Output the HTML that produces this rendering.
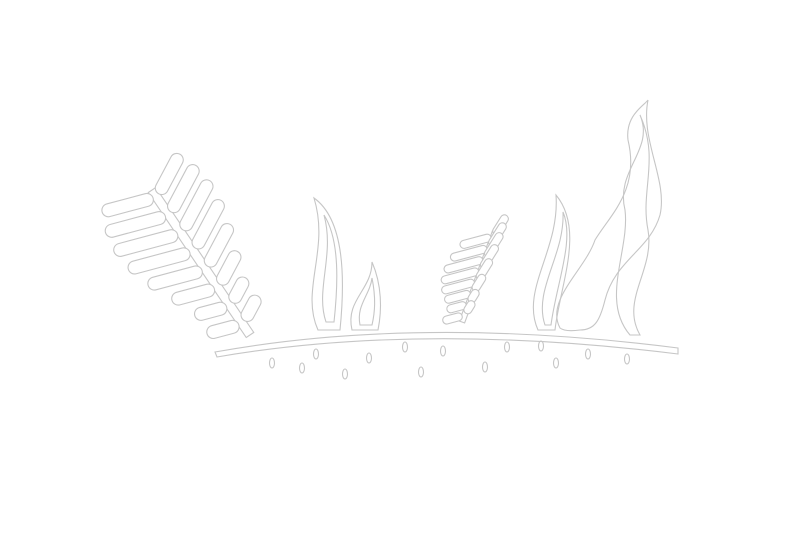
<!DOCTYPE html>
<html><head><meta charset="utf-8"><style>
html,body{margin:0;padding:0;background:#fff;width:800px;height:534px;overflow:hidden}
svg{display:block}
</style></head><body>
<svg id="art" width="800" height="534" viewBox="0 0 800 534" fill="none" stroke="#c6c6c6" stroke-width="1.1">
<g>
<path d="M215,352 Q420,315 678,348 L678,354 Q420,322 217,357 Z"/>
</g>
<g id="bigfern"></g>
<g id="smallfern"></g>
<g>
<path d="M318,330 C300,290 330,250 314,198 C345,220 345,280 340,330 Z"/>
<path d="M326,322 C315,290 335,255 324,215 C340,240 338,285 334,322 Z"/>
<path d="M352,330 C345,300 372,290 372,262 C382,285 382,310 378,330 Z"/>
<path d="M360,325 C356,305 370,295 372,278 C376,298 375,312 372,325 Z"/>
<path d="M538,330 C520,290 560,250 556,195 C585,230 560,285 555,330 Z"/>
<path d="M545,325 C533,290 565,255 563,212 C575,240 556,285 551,325 Z"/>
<path d="M560,328 C545,300 585,270 595,240 C610,215 640,190 628,140 C625,115 645,105 648,100 C640,140 668,180 660,215 C650,250 615,260 605,300 C600,320 595,330 580,330 Q565,332 560,328 Z"/>
<path d="M630,335 C600,300 630,250 625,210 C615,170 655,150 640,115 C660,160 640,190 648,230 C655,270 620,300 640,335 Z"/>
</g>
<g id="dots"></g>
</svg>
<script>
const NS='http://www.w3.org/2000/svg';
function fern(g,x0,y0,x1,y1,n,len,w,aL,aR,rScale){
  const ang=Math.atan2(y1-y0,x1-x0), L=Math.hypot(x1-x0,y1-y0);
  const st=document.createElementNS(NS,'rect');
  st.setAttribute('x',0);st.setAttribute('y',-w*0.35);st.setAttribute('width',L);st.setAttribute('height',w*0.7);
  st.setAttribute('transform',`translate(${x0},${y0}) rotate(${ang*180/Math.PI})`);
  
  
  g.appendChild(st);
  for(let i=0;i<n;i++){
    const t=(i+0.4)/n, x=x0+(x1-x0)*t, y=y0+(y1-y0)*t;
    const l=len*(0.5+0.5*Math.sin(Math.PI*Math.min(1,0.15+t*1.1)));
    [[aL,1],[aR,rScale]].forEach(([a,sc])=>{
      const r=document.createElementNS(NS,'rect');
      r.setAttribute('x',w*0.3);r.setAttribute('y',-w/2);r.setAttribute('width',l*sc);r.setAttribute('height',w);
      r.setAttribute('rx',w/2);
      r.setAttribute('fill','#fff');
      r.setAttribute('transform',`translate(${x},${y}) rotate(${a})`);
      
      
      g.appendChild(r);
    });
  }
}
fern(document.getElementById('bigfern'),152,190,250,335,8,66,13,165,-62,0.85);
fern(document.getElementById('smallfern'),495,232,462,322,8,40,8,165,-58,0.7);
const dots=document.getElementById('dots');
[[272,363],[302,368],[316,354],[345,374],[369,358],[405,347],[421,372],[443,351],[485,367],[507,347],[541,346],[556,363],[588,354],[627,359]].forEach(p=>{
  const e=document.createElementNS(NS,'ellipse');
  e.setAttribute('cx',p[0]);e.setAttribute('cy',p[1]);e.setAttribute('rx',2.5);e.setAttribute('ry',5);
  
  
  dots.appendChild(e);
});
</script>
</body></html>
